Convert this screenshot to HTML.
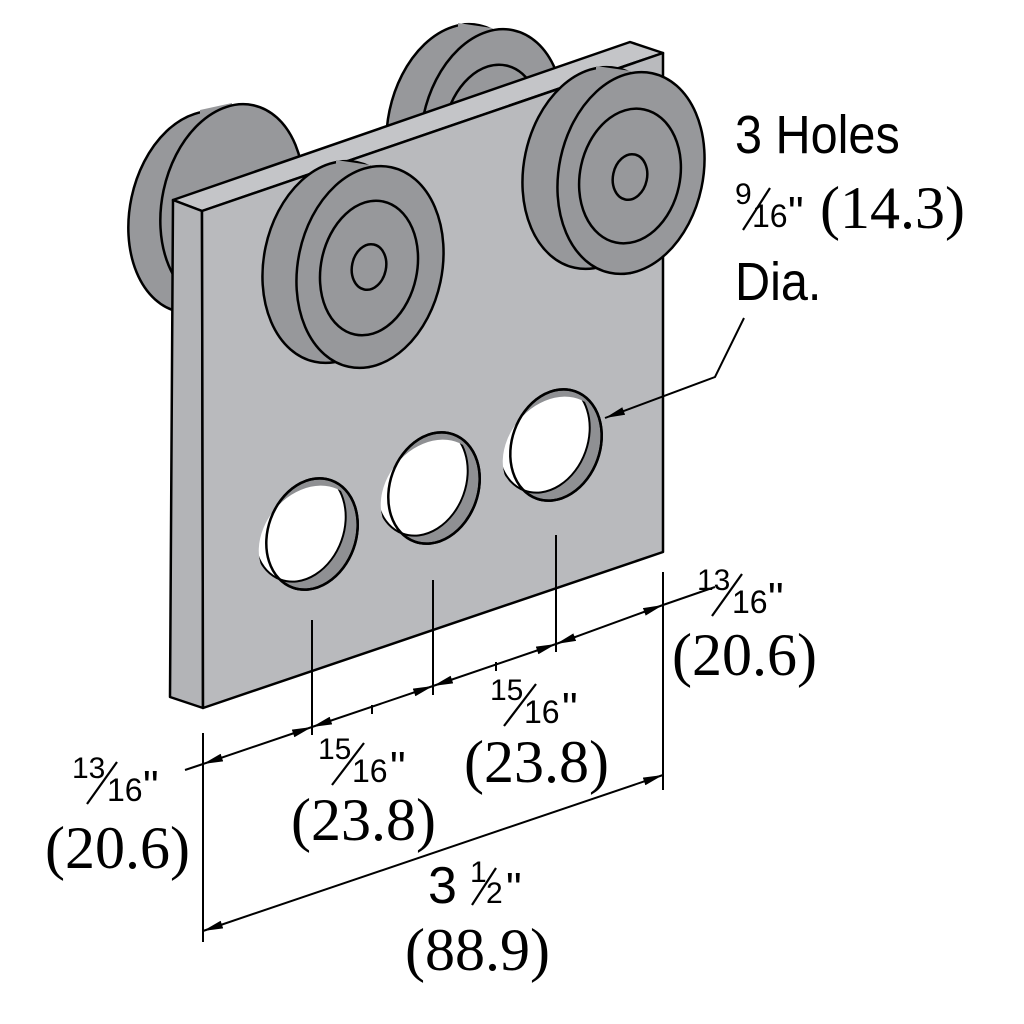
<!DOCTYPE html>
<html><head><meta charset="utf-8"><style>html,body{margin:0;padding:0;background:#fff}svg{display:block}</style></head>
<body>
<svg width="1024" height="1024" viewBox="0 0 1024 1024" xmlns="http://www.w3.org/2000/svg">
<defs>
<marker id="ar" viewBox="0 0 20 10" refX="20" refY="5" markerWidth="20" markerHeight="10" markerUnits="userSpaceOnUse" orient="auto-start-reverse"><path d="M0,1 L20,5 L0,9 z" fill="#000"/></marker>
<clipPath id="h1"><ellipse cx="312" cy="534" rx="44" ry="57" transform="rotate(20 312 534)"/></clipPath>
<clipPath id="h2"><ellipse cx="434" cy="488" rx="44" ry="57" transform="rotate(20 434 488)"/></clipPath>
<clipPath id="h3"><ellipse cx="556" cy="445" rx="44" ry="57" transform="rotate(20 556 445)"/></clipPath>
</defs>
<g stroke="#000" stroke-width="2.5" stroke-linejoin="round">
<g fill="#97989b">
<ellipse cx="200" cy="212" rx="70" ry="102" transform="rotate(12 200 212)"/>
<polygon points="200,110 232,103 232,307 200,314" stroke="none"/>
<ellipse cx="232" cy="205" rx="70" ry="102" transform="rotate(12 232 205)"/>
</g>
<g fill="#97989b">
<ellipse cx="458" cy="125" rx="70" ry="102" transform="rotate(12 458 125)"/>
<polygon points="458,23 492,28 492,232 458,227" stroke="none"/>
<ellipse cx="492" cy="130" rx="70" ry="102" transform="rotate(12 492 130)"/>
<ellipse cx="492" cy="132" rx="48" ry="68" transform="rotate(12 492 132)"/>
</g>
<polygon points="173,200 630,42 663,53 202,211" fill="#c4c5c8"/>
<polygon points="173,200 202,211 203,708 170,697" fill="#b3b4b7"/>
<polygon points="202,211 663,53 663,552 203,708" fill="#b9babd"/>
<g>
<ellipse cx="312" cy="534" rx="44" ry="57" transform="rotate(20 312 534)" fill="#8f9093"/>
<ellipse cx="300" cy="526" rx="44" ry="57" transform="rotate(20 300 526)" fill="#fff" clip-path="url(#h1)" stroke-width="2"/>
<ellipse cx="312" cy="534" rx="44" ry="57" transform="rotate(20 312 534)" fill="none"/>
<ellipse cx="434" cy="488" rx="44" ry="57" transform="rotate(20 434 488)" fill="#8f9093"/>
<ellipse cx="422" cy="480" rx="44" ry="57" transform="rotate(20 422 480)" fill="#fff" clip-path="url(#h2)" stroke-width="2"/>
<ellipse cx="434" cy="488" rx="44" ry="57" transform="rotate(20 434 488)" fill="none"/>
<ellipse cx="556" cy="445" rx="44" ry="57" transform="rotate(20 556 445)" fill="#8f9093"/>
<ellipse cx="544" cy="437" rx="44" ry="57" transform="rotate(20 544 437)" fill="#fff" clip-path="url(#h3)" stroke-width="2"/>
<ellipse cx="556" cy="445" rx="44" ry="57" transform="rotate(20 556 445)" fill="none"/>
</g>
<g fill="#97989b">
<ellipse cx="336" cy="262" rx="72" ry="102" transform="rotate(12 336 262)"/>
<polygon points="336,160 370,165 370,369 336,364" stroke="none"/>
<ellipse cx="370" cy="267" rx="72" ry="102" transform="rotate(12 370 267)"/>
<ellipse cx="369" cy="268" rx="48" ry="68" transform="rotate(12 369 268)"/>
<ellipse cx="369" cy="267" rx="17" ry="23" transform="rotate(12 369 267)"/>
</g>
<g fill="#97989b">
<ellipse cx="596" cy="168" rx="72" ry="102" transform="rotate(12 596 168)"/>
<polygon points="596,66 631,71 631,275 596,270" stroke="none"/>
<ellipse cx="631" cy="173" rx="72" ry="102" transform="rotate(12 631 173)"/>
<ellipse cx="630" cy="176" rx="50" ry="68" transform="rotate(12 630 176)"/>
<ellipse cx="630" cy="177" rx="17" ry="23" transform="rotate(12 630 177)"/>
</g>
</g>
<g stroke="#000" stroke-width="2" fill="none">
<line x1="203" y1="733" x2="203" y2="942"/>
<line x1="663" y1="572" x2="663" y2="790"/>
<line x1="312" y1="620" x2="312" y2="735"/>
<line x1="433" y1="580" x2="433" y2="695"/>
<line x1="556" y1="535" x2="556" y2="652"/>
<line x1="185" y1="770" x2="203" y2="764"/>
<line x1="663" y1="605" x2="715" y2="587"/>
<line x1="203" y1="764" x2="312" y2="727" marker-start="url(#ar)" marker-end="url(#ar)"/>
<line x1="312" y1="727" x2="433" y2="686" marker-start="url(#ar)" marker-end="url(#ar)"/>
<line x1="433" y1="686" x2="556" y2="644" marker-start="url(#ar)" marker-end="url(#ar)"/>
<line x1="556" y1="644" x2="663" y2="605" marker-start="url(#ar)" marker-end="url(#ar)"/>
<line x1="203" y1="931" x2="663" y2="775" marker-start="url(#ar)" marker-end="url(#ar)"/>
<line x1="372" y1="705" x2="372" y2="714"/>
<line x1="496" y1="662" x2="496" y2="671"/>
<polyline points="744,318 715,377 605,418" marker-end="url(#ar)"/>
</g>
<g font-family="Liberation Sans, sans-serif" fill="#000">
<text x="735" y="153" font-size="54" transform="translate(735 0) scale(0.9 1) translate(-735 0)">3 Holes</text>
<text x="735" y="300" font-size="54" transform="translate(735 0) scale(0.9 1) translate(-735 0)">Dia.</text>
</g>
<g font-family="Liberation Sans, sans-serif" font-size="30" fill="#000">
<text x="735" y="204">9</text><text x="752" y="227" font-size="32">16</text><text x="788" y="227" font-size="44">"</text>
<text x="697" y="590">13</text><text x="732" y="613" font-size="32">16</text><text x="768" y="613" font-size="44">"</text>
<text x="72" y="778">13</text><text x="107" y="801" font-size="32">16</text><text x="143" y="801" font-size="44">"</text>
<text x="318" y="759">15</text><text x="352" y="782" font-size="32">16</text><text x="390" y="782" font-size="44">"</text>
<text x="490" y="700">15</text><text x="524" y="723" font-size="32">16</text><text x="562" y="723" font-size="44">"</text>
<text x="428" y="903" font-size="52">3</text><text x="470" y="882">1</text><text x="486" y="903">2</text><text x="506" y="903" font-size="44">"</text>
</g>
<g stroke="#000" stroke-width="2.2">
<line x1="743" y1="230" x2="770" y2="188"/>
<line x1="712" y1="616" x2="742" y2="574"/>
<line x1="87" y1="804" x2="117" y2="762"/>
<line x1="332" y1="785" x2="364" y2="743"/>
<line x1="504" y1="726" x2="536" y2="684"/>
<line x1="472" y1="905" x2="496" y2="868"/>
</g>
<g font-family="Liberation Serif, serif" font-size="60" fill="#000">
<text x="820" y="228">(14.3)</text>
<text x="672" y="675">(20.6)</text>
<text x="45" y="868">(20.6)</text>
<text x="291" y="840">(23.8)</text>
<text x="464" y="782">(23.8)</text>
<text x="405" y="970">(88.9)</text>
</g>
</svg>
</body></html>
